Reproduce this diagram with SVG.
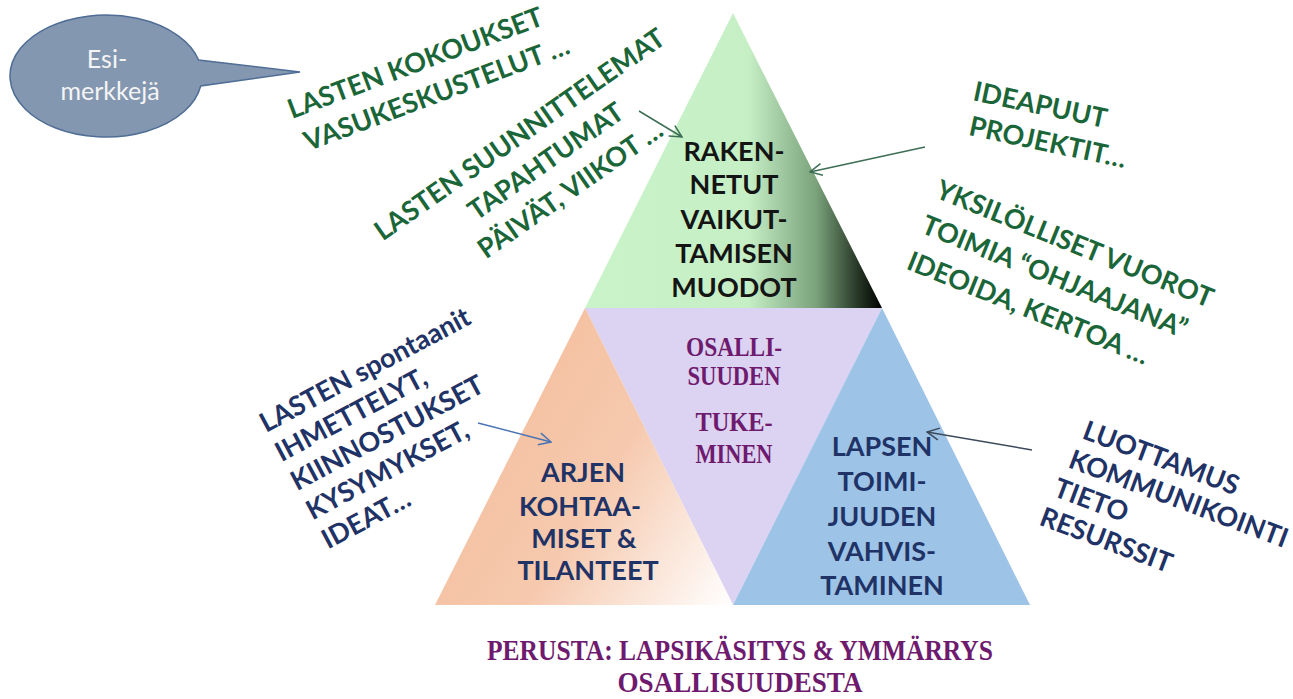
<svg xmlns="http://www.w3.org/2000/svg" width="1293" height="699" viewBox="0 0 1293 699">
<defs>
<linearGradient id="gTop" gradientUnits="userSpaceOnUse" x1="585" y1="0" x2="882" y2="0">
<stop offset="0" stop-color="#c9f3c9"/>
<stop offset="0.55" stop-color="#c6efc6"/>
<stop offset="0.78" stop-color="#7aa17a"/>
<stop offset="0.92" stop-color="#263626"/>
<stop offset="1" stop-color="#000000"/>
</linearGradient>
<linearGradient id="gLeft" gradientUnits="userSpaceOnUse" x1="435" y1="420" x2="733" y2="605">
<stop offset="0" stop-color="#f4bd9c"/>
<stop offset="0.5" stop-color="#f6c9ae"/>
<stop offset="1" stop-color="#ffffff"/>
</linearGradient>
<marker id="mGreen" markerUnits="userSpaceOnUse" markerWidth="14" markerHeight="14" viewBox="0 0 14 14" refX="13" refY="7" orient="auto">
<path d="M1,1 L13,7 L1,13" fill="none" stroke="#3d6e55" stroke-width="1.5"/>
</marker>
<marker id="mBlue" markerUnits="userSpaceOnUse" markerWidth="14" markerHeight="14" viewBox="0 0 14 14" refX="13" refY="7" orient="auto">
<path d="M1,1 L13,7 L1,13" fill="none" stroke="#4a74b4" stroke-width="1.5"/>
</marker>
<marker id="mSlate" markerUnits="userSpaceOnUse" markerWidth="14" markerHeight="14" viewBox="0 0 14 14" refX="13" refY="7" orient="auto">
<path d="M1,1 L13,7 L1,13" fill="none" stroke="#3c4a5c" stroke-width="1.5"/>
</marker>
</defs>
<style>
.sans{font-family:Lato,"Open Sans","Liberation Sans",sans-serif;font-weight:bold;font-size:27px}
.green{fill:#1b6639}
.navy{fill:#1f3366}
.blk{fill:#141414}
.mid{text-anchor:middle}
.deco{font-family:"Liberation Serif","DejaVu Serif",serif;font-weight:bold;fill:#6e1a6e;text-anchor:middle}
.conn{fill:none;stroke-width:1.5}
</style>
<rect width="1293" height="699" fill="#ffffff"/>

<g id="bubble">
<path d="M198.6,60 L300,72 L200.7,86 A96 61 0 1 1 198.6,60 Z" fill="#8497b0" stroke="#4f6d96" stroke-width="1.5"/>
<text x="107" y="68" font-family="Lato,'Open Sans','Liberation Sans',sans-serif" font-size="25" fill="#f4f4f4" text-anchor="middle">Esi-</text>
<text x="110" y="100" font-family="Lato,'Open Sans','Liberation Sans',sans-serif" font-size="25" fill="#f4f4f4" text-anchor="middle">merkkejä</text>
</g>

<g id="top-triangle">
<polygon points="733,13 585,308 882,308" fill="url(#gTop)"/>
<text class="sans blk mid" x="734" y="161">RAKEN-</text>
<text class="sans blk mid" x="734" y="194">NETUT</text>
<text class="sans blk mid" x="734" y="229">VAIKUT-</text>
<text class="sans blk mid" x="734" y="263">TAMISEN</text>
<text class="sans blk mid" x="734" y="297">MUODOT</text>
</g>

<g id="middle-triangle">
<polygon points="585,308 882,308 733,605" fill="#dcd2f1"/>
<text class="deco" x="734" y="356" font-size="28" textLength="96" lengthAdjust="spacingAndGlyphs">OSALLI-</text>
<text class="deco" x="734" y="385" font-size="28" textLength="93" lengthAdjust="spacingAndGlyphs">SUUDEN</text>
<text class="deco" x="734" y="431" font-size="28" textLength="77" lengthAdjust="spacingAndGlyphs">TUKE-</text>
<text class="deco" x="734" y="463" font-size="28" textLength="77" lengthAdjust="spacingAndGlyphs">MINEN</text>
</g>

<g id="left-triangle">
<polygon points="585,308 435,605 733,605" fill="url(#gLeft)"/>
<text class="sans navy mid" x="583" y="482">ARJEN</text>
<text class="sans navy mid" x="580" y="516">KOHTAA-</text>
<text class="sans navy mid" x="584" y="548">MISET &amp;</text>
<text class="sans navy mid" x="588" y="580">TILANTEET</text>
</g>

<g id="right-triangle">
<polygon points="882,308 733,605 1030,605" fill="#9dc3e6"/>
<text class="sans navy mid" x="882" y="456">LAPSEN</text>
<text class="sans navy mid" x="882" y="491">TOIMI-</text>
<text class="sans navy mid" x="882" y="526">JUUDEN</text>
<text class="sans navy mid" x="882" y="561">VAHVIS-</text>
<text class="sans navy mid" x="882" y="595">TAMINEN</text>
</g>

<g id="label-kokoukset" transform="translate(292,119) rotate(-20.5)">
<text class="sans green" font-size="26" x="0" y="0">LASTEN KOKOUKSET</text>
<text class="sans green" font-size="26" x="4" y="36">VASUKESKUSTELUT …</text>
</g>

<g id="label-suunnittelemat" transform="translate(525,142) rotate(-35)">
<text class="sans green mid" x="0" y="0">LASTEN SUUNNITTELEMAT</text>
<text class="sans green mid" x="6" y="37">TAPAHTUMAT</text>
<text class="sans green mid" x="10" y="74">PÄIVÄT, VIIKOT …</text>
</g>

<g id="label-ideapuut" transform="translate(972,100) rotate(12)">
<text class="sans green" font-size="26" x="0" y="0">IDEAPUUT</text>
<text class="sans green" font-size="26" x="3" y="35">PROJEKTIT…</text>
</g>

<g id="label-vuorot" transform="translate(934,197) rotate(22)">
<text class="sans green" x="0" y="0">YKSILÖLLISET VUOROT</text>
<text class="sans green" x="0" y="38">TOIMIA “OHJAAJANA”</text>
<text class="sans green" x="0" y="77">IDEOIDA, KERTOA …</text>
</g>

<g id="label-spontaanit" transform="translate(266,433) rotate(-28)">
<text class="sans navy" x="0" y="0">LASTEN spontaanit</text>
<text class="sans navy" x="0" y="33">IHMETTELYT,</text>
<text class="sans navy" x="0" y="66">KIINNOSTUKSET</text>
<text class="sans navy" x="0" y="99">KYSYMYKSET,</text>
<text class="sans navy" x="0" y="132">IDEAT…</text>
</g>

<g id="label-luottamus" transform="translate(1081,438) rotate(20.5)">
<text class="sans navy" font-size="25.5" x="0" y="0">LUOTTAMUS</text>
<text class="sans navy" font-size="25.5" x="-3" y="32">KOMMUNIKOINTI</text>
<text class="sans navy" font-size="25.5" x="-7" y="64">TIETO</text>
<text class="sans navy" font-size="25.5" x="-10" y="96">RESURSSIT</text>
</g>

<g id="footer">
<text class="deco" x="740" y="660" font-size="30" textLength="506" lengthAdjust="spacingAndGlyphs">PERUSTA: LAPSIKÄSITYS &amp; YMMÄRRYS</text>
<text class="deco" x="740" y="692" font-size="30" textLength="245" lengthAdjust="spacingAndGlyphs">OSALLISUUDESTA</text>
</g>

<g id="connectors">
<line class="conn" x1="639" y1="111" x2="682" y2="137" stroke="#3d6e55" marker-end="url(#mGreen)"/>
<line class="conn" x1="925" y1="147" x2="810" y2="172" stroke="#3d6e55" marker-end="url(#mGreen)"/>
<line class="conn" x1="478" y1="423" x2="551" y2="442" stroke="#4a74b4" marker-end="url(#mBlue)"/>
<line class="conn" x1="1032" y1="450" x2="927" y2="432" stroke="#3c4a5c" marker-end="url(#mSlate)"/>
</g>
</svg>
